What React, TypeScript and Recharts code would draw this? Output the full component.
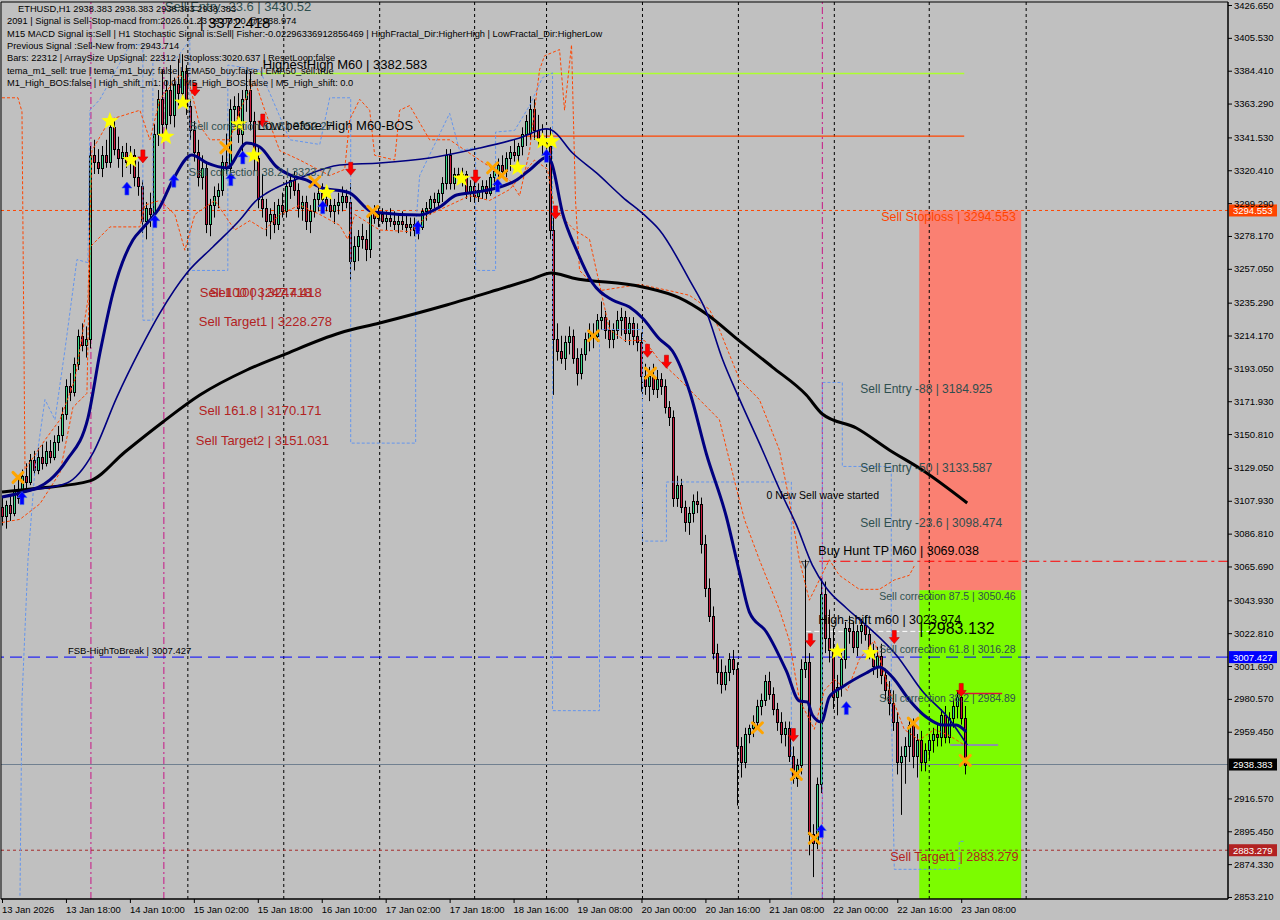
import React from 'react';
import {
  ComposedChart, Bar, Line, Scatter, XAxis, YAxis,
  ReferenceLine, ReferenceArea, ReferenceDot,
} from 'recharts';

type Ohlc = [number, number, number, number];
type Pt = [number, number];

// hourly candles [open, high, low, close], grouped by day
const jan13: Ohlc[] = [
  [3104, 3110, 3092, 3098], [3098, 3108, 3090, 3105], [3105, 3112, 3095, 3100], [3100, 3118, 3098, 3114],
  [3114, 3122, 3106, 3110], [3110, 3128, 3108, 3124], [3124, 3132, 3116, 3120], [3120, 3138, 3118, 3134],
  [3134, 3140, 3124, 3128], [3128, 3142, 3125, 3136], [3136, 3144, 3128, 3132], [3132, 3146, 3130, 3140],
  [3140, 3147, 3132, 3136], [3136, 3150, 3134, 3146], [3146, 3156, 3140, 3150], [3150, 3168, 3146, 3164],
  [3164, 3186, 3160, 3182], [3182, 3190, 3172, 3178], [3178, 3200, 3175, 3196], [3196, 3218, 3192, 3214],
  [3214, 3222, 3204, 3208], [3208, 3220, 3200, 3212],
];
const jan14: Ohlc[] = [
  [3212, 3336, 3206, 3330], [3330, 3340, 3318, 3326], [3326, 3334, 3318, 3322], [3322, 3336, 3316, 3330],
  [3330, 3340, 3322, 3326], [3326, 3354, 3322, 3348], [3348, 3352, 3330, 3334], [3334, 3342, 3322, 3328],
  [3328, 3336, 3316, 3332], [3332, 3338, 3322, 3326], [3326, 3336, 3318, 3330], [3330, 3334, 3310, 3316],
  [3316, 3326, 3304, 3310], [3310, 3314, 3280, 3288], [3288, 3300, 3276, 3296], [3296, 3306, 3284, 3292],
  [3292, 3350, 3288, 3344], [3344, 3372, 3336, 3366], [3366, 3385, 3340, 3350], [3350, 3378, 3344, 3372],
  [3372, 3388, 3350, 3356], [3356, 3380, 3348, 3376], [3376, 3392, 3362, 3370], [3370, 3395, 3365, 3384],
];
const jan15: Ohlc[] = [
  [3384, 3388, 3356, 3362], [3362, 3366, 3340, 3346], [3346, 3352, 3326, 3332], [3332, 3340, 3310, 3316],
  [3316, 3330, 3308, 3322], [3322, 3326, 3280, 3286], [3286, 3302, 3278, 3298], [3298, 3310, 3290, 3304],
  [3304, 3312, 3296, 3308], [3308, 3330, 3304, 3326], [3326, 3344, 3318, 3322], [3322, 3366, 3318, 3360],
  [3360, 3368, 3350, 3362], [3362, 3370, 3338, 3344], [3344, 3372, 3330, 3366], [3366, 3385, 3358, 3372],
  [3372, 3384, 3346, 3352], [3352, 3358, 3320, 3328], [3328, 3336, 3296, 3302], [3302, 3318, 3290, 3296],
  [3296, 3302, 3278, 3288], [3288, 3296, 3276, 3292], [3292, 3300, 3280, 3286], [3286, 3302, 3282, 3298],
];
const jan16: Ohlc[] = [
  [3298, 3306, 3290, 3294], [3294, 3314, 3290, 3310], [3310, 3318, 3302, 3314], [3314, 3320, 3304, 3308],
  [3308, 3312, 3290, 3296], [3296, 3304, 3288, 3300], [3300, 3304, 3282, 3288], [3288, 3298, 3280, 3294],
  [3294, 3306, 3290, 3302], [3302, 3310, 3294, 3306], [3306, 3312, 3298, 3302], [3302, 3310, 3294, 3298],
  [3298, 3304, 3290, 3294], [3294, 3302, 3286, 3298], [3298, 3306, 3292, 3300], [3300, 3310, 3294, 3304],
  [3304, 3308, 3296, 3300], [3300, 3312, 3250, 3262], [3262, 3278, 3256, 3272], [3272, 3282, 3262, 3278],
  [3278, 3286, 3270, 3276], [3276, 3282, 3262, 3270], [3270, 3296, 3264, 3292], [3292, 3298, 3286, 3290],
];
const jan17: Ohlc[] = [
  [3290, 3296, 3284, 3292], [3292, 3296, 3286, 3288], [3288, 3294, 3282, 3290], [3290, 3296, 3284, 3288],
  [3288, 3294, 3282, 3286], [3286, 3292, 3280, 3288], [3288, 3294, 3282, 3286], [3286, 3292, 3280, 3284],
  [3284, 3290, 3278, 3286], [3286, 3290, 3278, 3282], [3282, 3288, 3276, 3284], [3284, 3296, 3282, 3294],
  [3294, 3300, 3288, 3296], [3296, 3304, 3292, 3302], [3302, 3306, 3296, 3300], [3300, 3308, 3296, 3306],
  [3306, 3316, 3300, 3312], [3312, 3334, 3308, 3330], [3330, 3334, 3308, 3312], [3312, 3322, 3308, 3318],
  [3318, 3322, 3312, 3316], [3316, 3322, 3310, 3318], [3318, 3320, 3302, 3306], [3306, 3314, 3300, 3310],
];
const jan18: Ohlc[] = [
  [3310, 3316, 3300, 3304], [3304, 3312, 3300, 3308], [3308, 3314, 3302, 3310], [3310, 3314, 3302, 3306],
  [3306, 3318, 3304, 3316], [3316, 3324, 3310, 3320], [3320, 3328, 3312, 3324], [3324, 3330, 3316, 3320],
  [3320, 3332, 3316, 3328], [3328, 3336, 3320, 3332], [3332, 3340, 3326, 3330], [3330, 3338, 3322, 3336],
  [3336, 3348, 3330, 3344], [3344, 3356, 3336, 3352], [3344, 3368, 3340, 3360], [3360, 3366, 3340, 3346],
  [3346, 3356, 3336, 3340], [3340, 3350, 3330, 3338],
];
const jan19: Ohlc[] = [
  [3338, 3346, 3328, 3336], [3336, 3348, 3276, 3282], [3282, 3290, 3176, 3212], [3212, 3222, 3198, 3204],
  [3204, 3214, 3196, 3200], [3200, 3214, 3192, 3210], [3210, 3220, 3202, 3214], [3214, 3218, 3196, 3200],
  [3200, 3206, 3182, 3190], [3190, 3206, 3186, 3202], [3202, 3216, 3198, 3212], [3212, 3222, 3204, 3216],
  [3216, 3222, 3206, 3214], [3214, 3228, 3210, 3224], [3224, 3236, 3218, 3226], [3226, 3230, 3212, 3218],
  [3218, 3224, 3206, 3212], [3212, 3222, 3206, 3218], [3218, 3230, 3212, 3224], [3224, 3232, 3214, 3226],
  [3226, 3230, 3210, 3216], [3216, 3226, 3208, 3222], [3222, 3226, 3208, 3214], [3214, 3222, 3204, 3210],
];
const jan20: Ohlc[] = [
  [3210, 3216, 3178, 3188], [3188, 3196, 3176, 3182], [3182, 3194, 3172, 3188], [3188, 3196, 3176, 3180],
  [3180, 3192, 3174, 3186], [3186, 3190, 3176, 3182], [3182, 3186, 3164, 3168], [3168, 3172, 3156, 3162],
  [3162, 3166, 3104, 3110], [3110, 3124, 3104, 3118], [3118, 3122, 3100, 3104], [3104, 3108, 3088, 3094],
  [3094, 3104, 3086, 3100], [3100, 3112, 3094, 3108], [3108, 3114, 3100, 3106], [3106, 3110, 3074, 3080],
  [3080, 3086, 3046, 3052], [3052, 3058, 3030, 3034], [3034, 3040, 3006, 3010], [3010, 3016, 2990, 2998],
  [2998, 3006, 2984, 2990], [2990, 3002, 2986, 2998], [2998, 3010, 2992, 3006], [3006, 3012, 2996, 3000],
];
const jan21: Ohlc[] = [
  [3000, 3004, 2912, 2950], [2950, 2956, 2930, 2940], [2940, 2962, 2936, 2958], [2958, 2964, 2952, 2962],
  [2962, 2970, 2956, 2966], [2966, 2980, 2962, 2976], [2976, 2984, 2970, 2980], [2980, 2996, 2976, 2992],
  [2992, 2998, 2980, 2984], [2984, 2988, 2970, 2974], [2974, 2978, 2960, 2966], [2966, 2972, 2952, 2958],
  [2958, 2966, 2950, 2962], [2962, 2966, 2940, 2944], [2944, 2950, 2926, 2930], [2930, 2942, 2924, 2938],
  [2938, 3006, 2932, 3000], [3000, 3070, 2994, 3004], [3004, 3010, 2880, 2894], [2894, 2900, 2866, 2888],
  [2888, 2930, 2884, 2926], [2926, 3058, 2920, 3048], [3048, 3056, 3010, 3020], [3020, 3038, 3004, 3012],
];
const jan22: Ohlc[] = [
  [3012, 3026, 2974, 2982], [2982, 2996, 2970, 2988], [2988, 3010, 2982, 3006], [3006, 3030, 3000, 3026],
  [3026, 3034, 3016, 3024], [3024, 3030, 3010, 3014], [3014, 3028, 3008, 3024], [3024, 3032, 3016, 3028],
  [3028, 3034, 3018, 3022], [3022, 3026, 3006, 3010], [3010, 3016, 2996, 3002], [3002, 3014, 2994, 3008],
  [3008, 3016, 2990, 2996], [2996, 3000, 2980, 2986], [2986, 2992, 2970, 2978], [2978, 2986, 2960, 2966],
  [2966, 2972, 2932, 2940], [2940, 2950, 2906, 2944], [2944, 2956, 2926, 2950], [2950, 2968, 2940, 2964],
  [2964, 2968, 2936, 2944], [2944, 2958, 2930, 2954], [2954, 2960, 2934, 2940], [2940, 2952, 2934, 2948],
];
const jan23: Ohlc[] = [
  [2948, 2958, 2942, 2954], [2954, 2962, 2946, 2958], [2958, 2964, 2950, 2956], [2956, 2974, 2950, 2970],
  [2970, 2976, 2952, 2956], [2956, 2972, 2952, 2968], [2968, 2980, 2962, 2976], [2976, 2986, 2968, 2982],
  [2982, 2986, 2964, 2968], [2968, 2976, 2932, 2938.383],
];

const candles = [...jan13, ...jan14, ...jan15, ...jan16, ...jan17, ...jan18, ...jan19, ...jan20, ...jan21, ...jan22, ...jan23]
  .map(([o, h, l, c], i) => ({ i, o, h, l, c, range: [l, h] }));

const timeTicks = [0, 16, 32, 48, 64, 80, 96, 112, 128, 144, 160, 176, 192, 208, 224, 240];
const timeLabels = ['13 Jan 2026', '13 Jan 18:00', '14 Jan 10:00', '15 Jan 02:00', '15 Jan 18:00', '16 Jan 10:00',
  '17 Jan 02:00', '17 Jan 18:00', '18 Jan 16:00', '19 Jan 08:00', '20 Jan 00:00', '20 Jan 16:00',
  '21 Jan 08:00', '22 Jan 00:00', '22 Jan 16:00', '23 Jan 08:00'];
const priceTicks = [3426.65, 3405.53, 3384.41, 3363.29, 3341.53, 3320.41, 3299.29, 3278.17, 3257.05, 3235.29,
  3214.17, 3193.05, 3171.93, 3150.81, 3129.05, 3107.93, 3086.81, 3065.69, 3043.93, 3022.81, 3001.69,
  2980.57, 2959.45, 2916.57, 2895.45, 2874.33, 2853.21];

const daySeparators = [46.5, 70.5, 94.5, 118.25, 136.25, 160.25, 184.25, 208.25, 232, 256.25];
const magentaLines = [22.25, 40.5, 205.25];

// indicator lines [bar, price]
const slowMa: Pt[] = [[0, 3113.6], [9.5, 3116.1], [22, 3120.7], [30.75, 3139.3], [40.25, 3158.6], [49.5, 3175.9],
  [61.25, 3192], [70.25, 3201.6], [84.5, 3215.8], [94.5, 3222.2], [111.25, 3233.8], [123.75, 3243.4],
  [132, 3249.9], [137.5, 3254.4], [142.75, 3251.2], [160.25, 3245.4], [169.5, 3238.3], [176.25, 3228],
  [184.5, 3210.7], [192.75, 3193.9], [201.25, 3175.9], [205.25, 3163.7], [213.75, 3154.7], [222, 3140.6],
  [230.25, 3127.7], [241.5, 3106.5]];
const fastMa: Pt[] = [[0, 3110.4], [4.5, 3112.9], [12, 3121.3], [16.25, 3134.2], [21.5, 3161.1], [24.5, 3202.9],
  [27.75, 3241.5], [32.75, 3275.6], [35.25, 3283.3], [39.5, 3296.8], [42.75, 3314.1], [47.5, 3330.2],
  [51.25, 3325.1], [56.25, 3321.9], [61.25, 3337.9], [64.5, 3335.4], [68.75, 3322.5], [72, 3317.4],
  [76.25, 3314.1], [79.5, 3309.6], [87, 3305.8], [92.75, 3293.6], [104.5, 3291.7], [109.5, 3296.8],
  [113.75, 3304.5], [118.75, 3306.4], [123.75, 3309], [128.75, 3314.1], [132, 3320.6], [136.5, 3329],
  [137.5, 3325.1], [140.25, 3292.9], [143.75, 3269.1], [147.75, 3247.9], [152.75, 3237], [157, 3232.5],
  [160.25, 3225.4], [164.5, 3211.9], [167.75, 3204.2], [172, 3178.5], [176.25, 3138], [181.25, 3097.5],
  [184.5, 3062.2], [187, 3036.4], [191.25, 3023.6], [196.25, 2998.5], [199.5, 2979.2], [201.5, 2978.6],
  [202.75, 2970.2], [205, 2965.7], [207, 2981.8], [210.25, 2988.2], [216.25, 2997.2], [219.5, 3001.1],
  [222.75, 2994.6], [227, 2979.9], [231.25, 2968.9], [235.25, 2963.8], [238.75, 2963.8], [241.25, 2959.3]];
const midMa: Pt[] = [[0, 3110.4], [7.75, 3114.8], [16.25, 3119.4], [22.75, 3138.6], [28.75, 3174.6], [34.5, 3204.9],
  [39.5, 3228.6], [46.25, 3254.4], [52.75, 3271.1], [59.5, 3288.4], [63.75, 3301.3], [66.25, 3305.8],
  [74.5, 3315.4], [84.5, 3323.8], [94.5, 3325.1], [107, 3328.3], [119.5, 3334.7], [129.5, 3341.2],
  [136.25, 3347], [137.5, 3346.3], [142.75, 3331.5], [148.75, 3318.7], [155.25, 3303.2], [161.25, 3290.4],
  [164.5, 3282], [172, 3249.9], [176.25, 3229.3], [180.25, 3199.1], [184.5, 3173.4], [190.25, 3140.6],
  [194.5, 3115.5], [198.75, 3092.4], [202.75, 3066.6], [206.25, 3051.9], [211.25, 3039], [217, 3026.1],
  [223.75, 3008.8], [230.25, 2985.6], [237, 2967.6], [241.5, 2950.9]];
const bandUpper: Pt[] = [[0, 3367], [4, 3367], [5, 3358], [5.75, 3128], [10.75, 3147], [14.5, 3160], [18.25, 3186],
  [21.5, 3237], [22.5, 3333], [27, 3353], [34.5, 3359], [37, 3340], [39.5, 3366], [44.5, 3382], [47, 3375],
  [49.5, 3349], [52, 3340], [57, 3340], [59.5, 3359], [63.25, 3378], [65.75, 3359], [69.5, 3333], [74.5, 3327],
  [82, 3317], [85.75, 3321], [87, 3353], [89.5, 3366], [92, 3359], [93.25, 3330], [98.25, 3327], [99.5, 3359],
  [102, 3362], [107, 3340], [112, 3340], [119.5, 3327], [127, 3314], [129.5, 3304], [132, 3333], [134.5, 3385],
  [135.75, 3394], [139.5, 3398], [140.75, 3359], [142.5, 3401], [143.5, 3301], [144.5, 3256], [149.5, 3243],
  [159.5, 3247], [167, 3243], [172, 3240], [177, 3231], [179.5, 3218], [184.5, 3186], [189.5, 3173],
  [194.5, 3140.6], [197, 3108], [199.5, 3070], [202, 3044], [204.5, 3057], [207, 3070], [209.5, 3060],
  [214.5, 3051], [219.5, 3051], [223.25, 3057], [227, 3060], [228.25, 3066]];
const bandLower: Pt[] = [[0, 3094], [4.5, 3096], [9.5, 3106], [14.5, 3126], [17.75, 3168], [21.25, 3177], [22, 3271],
  [27, 3284], [34.5, 3284], [35.75, 3298], [39.5, 3301], [43.25, 3292], [45.75, 3269], [48.25, 3292],
  [53.25, 3301], [58.25, 3282], [62, 3288], [65.75, 3282], [69.5, 3292], [74.5, 3298], [79.5, 3292],
  [84.5, 3285], [86.5, 3276], [88.25, 3292], [94.5, 3282], [102, 3281], [107, 3292], [112, 3298], [117, 3304],
  [122, 3301], [127, 3308], [133.25, 3327], [136.5, 3321], [138.25, 3295], [143.25, 3282], [147, 3276],
  [152, 3218], [155.75, 3211], [160.75, 3211], [164.5, 3198], [169.5, 3186], [174.5, 3173], [179.5, 3160],
  [183.25, 3121], [185.75, 3096], [189.5, 3070], [194.5, 3038], [197, 3018], [199.5, 2980], [203.25, 2961],
  [205.75, 2986], [208.25, 2993], [211.5, 2986], [214.5, 3006], [218.25, 3018], [222, 2986], [225.75, 2961],
  [229.5, 2954], [233.25, 2961], [237, 2957], [240.75, 2951]];
const stepA: Pt[] = [[4.5, 2854], [5, 2980], [6.5, 3070], [8.25, 3128], [10.75, 3173], [13.25, 3160], [15.75, 3205],
  [18.75, 3263], [21.5, 3261], [22, 3359], [24.5, 3366], [32, 3401], [35.25, 3401], [35.25, 3224], [37.75, 3224],
  [37.75, 3391], [43.25, 3391], [47, 3404], [47, 3256], [56.5, 3256], [56.5, 3388], [64.5, 3385], [72, 3340],
  [79.5, 3337], [82, 3367], [87.25, 3367], [87.25, 3145], [103.5, 3145], [103.5, 3284], [104.5, 3317],
  [112, 3357], [114.5, 3333], [118.5, 3335], [118.5, 3256], [123.5, 3256], [123.5, 3345], [128.25, 3346],
  [132, 3362], [135.25, 3380], [137.75, 3383], [137.75, 2973], [149.5, 2973], [149.5, 3218], [160.25, 3218],
  [160.25, 3082], [166.25, 3082], [166.25, 3120], [197.5, 3120], [197.5, 2853]];
const stepB: Pt[] = [[205.25, 2853], [205.25, 3184], [210.25, 3184], [210.25, 3130], [222.5, 3130], [222.5, 2983],
  [223.25, 2871], [239.5, 2871], [239.5, 2889], [241, 2889]];

// signal markers [bar, price]
const stars: Pt[] = [[27, 3352], [32.25, 3327], [41, 3342], [45.25, 3364], [59.25, 3350], [63, 3330], [81.25, 3306],
  [115, 3315], [129, 3322], [135.25, 3339], [137.5, 3339], [209, 3011], [217.25, 3010]];
const sellArrows: Pt[] = [[35.25, 3329], [48.25, 3372], [65.25, 3352], [87.25, 3321], [118.5, 3316], [138.5, 3293],
  [161.5, 3204], [166.25, 3197], [198, 2957], [202.25, 3018], [223.25, 3020], [240, 2986]];
const buyArrows: Pt[] = [[5, 3110], [31.25, 3309], [38.25, 3288], [43, 3314], [57.25, 3315], [60.25, 3329],
  [80.25, 3297], [104, 3284], [124, 3311], [136.25, 3330], [211.25, 2975], [205, 2896]];
const crosses: Pt[] = [[4, 3123], [56, 3335], [78.25, 3313], [92.75, 3294], [122.75, 3322], [125, 3317],
  [148, 3214], [162.25, 3190], [189, 2962], [198.75, 2932], [203.25, 2891], [228, 2965], [241, 2941]];

const infoLines = [
  'ETHUSD,H1  2938.383 2938.383 2938.383 2938.383',
  '2091 | Signal is Sell-Stop-macd from:2026.01.23 09:00:00 @2938.974',
  'M15 MACD Signal is:Sell | H1 Stochastic Signal is:Sell| Fisher:-0.02296336912856469 | HighFractal_Dir:HigherHigh | LowFractal_Dir:HigherLow',
  'Previous Signal :Sell-New from: 2943.714',
  'Bars: 22312 | ArraySize UpSignal: 22312 | Stoploss:3020.637 | ResetLoop:false',
  'tema_m1_sell: true | tema_m1_buy: false | EMA50_buy:false | EMA50_sell:true',
  'M1_High_BOS:false | High_shift_m1: 0.0 | M5_High_BOS:false | M5_High_shift: 0.0',
];

const notes = [
  { t: 'Sell Entry -23.6 | 3430.52', i: 40.75, p: 3425.4, c: '#2f4f4f', s: 13 },
  { t: '| 3372.418', i: 49.5, p: 3415.7, c: '#000', s: 15 },
  { t: 'HighestHigh   M60 | 3382.583', i: 65.25, p: 3388.1, c: '#000', s: 13 },
  { t: 'Sell correction 61.8 | 3352.27', i: 47, p: 3348.9, c: '#2f4f4f', s: 11 },
  { t: 'Low before High    M60-BOS', i: 64, p: 3348.9, c: '#000', s: 13 },
  { t: 'Sell correction 38.2 | 3323.77', i: 46.75, p: 3319.3, c: '#2f4f4f', s: 11 },
  { t: 'Sell 100 | 3247.418', i: 49.5, p: 3242.1, c: '#b22222', s: 13 },
  { t: 'Sell 100 | 3247.418', i: 52, p: 3242.1, c: '#b22222', s: 13 },
  { t: 'Sell Target1 | 3228.278', i: 49.25, p: 3223.5, c: '#b22222', s: 13 },
  { t: 'Sell 161.8 | 3170.171', i: 49.25, p: 3165.7, c: '#b22222', s: 13 },
  { t: 'Sell Target2 | 3151.031', i: 48.5, p: 3146.4, c: '#b22222', s: 13 },
  { t: 'FSB-HighToBreak | 3007.427', i: 16.5, p: 3011.4, c: '#000', s: 9.5 },
  { t: 'Sell Stoploss | 3294.553', i: 220, p: 3290.4, c: '#ff4500', s: 12.5 },
  { t: 'Sell Entry -88 | 3184.925', i: 214.75, p: 3179.8, c: '#2f4f4f', s: 12 },
  { t: 'Sell Entry -50 | 3133.587', i: 214.75, p: 3129.0, c: '#2f4f4f', s: 12 },
  { t: 'Sell Entry -23.6 | 3098.474', i: 214.75, p: 3093.6, c: '#2f4f4f', s: 12 },
  { t: '0 New Sell wave started', i: 191.25, p: 3111.6, c: '#000', s: 10.5 },
  { t: 'Buy Hunt TP M60 | 3069.038', i: 204.25, p: 3075.6, c: '#000', s: 12.5 },
  { t: '▽', i: 200, p: 3067, c: '#000', s: 11 },
  { t: 'Sell correction 87.5 | 3050.46', i: 219.5, p: 3046.7, c: '#2f4f4f', s: 10.5 },
  { t: 'High-shift m60 | 3023.974', i: 204.25, p: 3031.3, c: '#000', s: 12.5 },
  { t: '| 2983.132', i: 229.5, p: 3025.5, c: '#000', s: 16 },
  { t: 'Sell correction 61.8 | 3016.28', i: 219.5, p: 3012.6, c: '#2f4f4f', s: 10.5 },
  { t: 'Sell correction 38.2 | 2984.89', i: 219.5, p: 2981.1, c: '#2f4f4f', s: 10.5 },
  { t: 'Sell Target1 | 2883.279', i: 222.25, p: 2878.9, c: '#b22222', s: 12.5 },
];

const X_MIN = -0.25;
const X_MAX = 306.75;
const Y_MIN = 2851.92;
const Y_MAX = 3428.58;
const FONT = '"Liberation Sans", Arial, sans-serif';
const BULL = '#38d888';
const BEAR = '#c8183c';

const pts = (arr: Pt[]) => arr.map(([i, p]) => ({ i, p }));

const Candle = (props: any) => {
  const { x, y, width, height, payload } = props;
  if (!payload) return null;
  const top = Math.min(y, y + height);
  const bottom = Math.max(y, y + height);
  const span = payload.h - payload.l || 1;
  const py = (v: number) => top + ((payload.h - v) / span) * (bottom - top);
  const cx = Math.round(x + width / 2) + 0.5;
  const bTop = Math.round(py(Math.max(payload.o, payload.c))) + 0.5;
  const bBot = Math.round(py(Math.min(payload.o, payload.c))) + 0.5;
  return (
    <g>
      <line x1={cx} x2={cx} y1={top} y2={bottom} stroke="#000" strokeWidth={1} />
      <rect x={cx - 1} y={bTop} width={2} height={Math.max(bBot - bTop, 1)}
        fill={payload.c >= payload.o ? BULL : BEAR} stroke="#000" strokeWidth={1} />
    </g>
  );
};

const StarMark = ({ cx, cy }: any) => {
  const d = Array.from({ length: 10 }, (_, k) => {
    const r = k % 2 === 0 ? 9 : 3.8;
    const a = -Math.PI / 2 + (k * Math.PI) / 5;
    return `${k === 0 ? 'M' : 'L'}${cx + r * Math.cos(a)},${cy + r * Math.sin(a)}`;
  }).join(' ') + ' Z';
  return <path d={d} fill="#ffff00" />;
};

const DownArrow = ({ cx, cy }: any) => (
  <path d={`M${cx - 2},${cy - 7} L${cx + 2},${cy - 7} L${cx + 2},${cy} L${cx + 5},${cy} L${cx},${cy + 6} L${cx - 5},${cy} L${cx - 2},${cy} Z`}
    fill="#ff0000" stroke="#c00000" strokeWidth={0.6} />
);

const UpArrow = ({ cx, cy }: any) => (
  <path d={`M${cx - 2},${cy + 7} L${cx + 2},${cy + 7} L${cx + 2},${cy} L${cx + 5},${cy} L${cx},${cy - 6} L${cx - 5},${cy} L${cx - 2},${cy} Z`}
    fill="#0000ff" stroke="#4169e1" strokeWidth={0.6} />
);

const Cross = ({ cx, cy }: any) => (
  <g stroke="#ffa500" strokeWidth={3} strokeLinecap="round">
    <line x1={cx - 5} y1={cy - 5} x2={cx + 5} y2={cy + 5} />
    <line x1={cx - 5} y1={cy + 5} x2={cx + 5} y2={cy - 5} />
  </g>
);

const TimeTick = ({ x, y, payload }: any) => {
  const k = timeTicks.indexOf(payload.value);
  return (
    <g>
      <line x1={x + 0.5} x2={x + 0.5} y1={y} y2={y + 4} stroke="#000" />
      <text x={x} y={y + 14} fontSize={9.5} fontFamily={FONT} fill="#000">{timeLabels[k]}</text>
    </g>
  );
};

const PriceTick = ({ x, y, payload }: any) => (
  <g>
    <line x1={x} x2={x + 4} y1={y + 0.5} y2={y + 0.5} stroke="#000" />
    <text x={x + 6} y={y + 3.5} fontSize={9.5} fontFamily={FONT} fill="#000">{payload.value.toFixed(3)}</text>
  </g>
);

const priceTag = (value: number, bg: string) => (props: any) => {
  const vb = props.viewBox || {};
  const x0 = (vb.x || 0) + (vb.width || 0) + 1;
  const y0 = vb.y || 0;
  return (
    <g>
      <rect x={x0} y={y0 - 6} width={48} height={12} fill={bg} />
      <text x={x0 + 4} y={y0 + 3.5} fontSize={9.5} fontFamily={FONT} fill="#fff">{value.toFixed(3)}</text>
    </g>
  );
};

const fullLines = [
  { p: 3294.553, c: '#ff4500', dash: '3 3', tag: '#ff4500' },
  { p: 3007.427, c: '#0000ff', dash: '12 6', tag: '#0000ff' },
  { p: 2938.383, c: '#708090', dash: undefined, tag: '#000000' },
  { p: 2883.279, c: '#a52a2a', dash: '3 3', tag: '#b22222' },
];

const segLines = [
  { p: 3382.583, a: 63.25, b: 240.75, c: '#adff2f', dash: undefined, w: 1.5 },
  { p: 3342.4, a: 62.75, b: 240.75, c: '#ff4500', dash: undefined, w: 1.2 },
  { p: 3069.038, a: 204.5, b: X_MAX, c: '#ff0000', dash: '10 4 3 4', w: 1 },
  { p: 3023.974, a: 201.25, b: 232, c: '#ffffff', dash: '5 3', w: 1 },
  { p: 2984.0, a: 239, b: 250.25, c: '#dc143c', dash: undefined, w: 1.5 },
  { p: 2950.9, a: 237.25, b: 249.25, c: '#9370db', dash: undefined, w: 1.5 },
];

export default function App() {
  return (
    <div style={{ position: 'fixed', left: 0, top: 0, width: 1280, height: 920, background: '#c0c0c0', overflow: 'hidden' }}>
      <ComposedChart width={1280} height={920} data={candles} margin={{ top: 2, right: 0, bottom: 0, left: 1 }}>
        <XAxis dataKey="i" type="number" domain={[X_MIN, X_MAX]} allowDataOverflow ticks={timeTicks} interval={0}
          height={21} tickSize={0} tickMargin={0} axisLine={{ stroke: '#000' }} tick={<TimeTick />} />
        <YAxis orientation="right" type="number" domain={[Y_MIN, Y_MAX]} allowDataOverflow ticks={priceTicks}
          interval={0} width={52} tickSize={0} tickMargin={0} axisLine={{ stroke: '#000' }} tick={<PriceTick />} />

        <ReferenceArea x1={229.5} x2={255} y1={3050.46} y2={3294.553} fill="#fa8072" fillOpacity={1} ifOverflow="hidden" zIndex={-50} />
        <ReferenceArea x1={229.5} x2={255} y1={Y_MIN} y2={3050.46} fill="#7cfc00" fillOpacity={1} ifOverflow="hidden" zIndex={-50} />

        {daySeparators.map((v) => (
          <ReferenceLine key={`d${v}`} x={v} stroke="#000" strokeDasharray="3 3" zIndex={-40} />
        ))}
        {magentaLines.map((v) => (
          <ReferenceLine key={`m${v}`} x={v} stroke="#c71585" strokeDasharray="7 3 2 3" zIndex={-40} />
        ))}
        {segLines.map((s) => (
          <ReferenceLine key={`s${s.p}`} segment={[{ x: s.a, y: s.p }, { x: s.b, y: s.p }]} stroke={s.c}
            strokeWidth={s.w} strokeDasharray={s.dash} ifOverflow="hidden" zIndex={-30} />
        ))}
        {fullLines.map((f) => (
          <ReferenceLine key={`f${f.p}`} y={f.p} stroke={f.c} strokeDasharray={f.dash} zIndex={-30} />
        ))}

        <Line data={pts(stepA)} dataKey="p" type="linear" stroke="#6495ed" strokeWidth={1} strokeDasharray="3 2" dot={false} activeDot={false} isAnimationActive={false} />
        <Line data={pts(stepB)} dataKey="p" type="linear" stroke="#6495ed" strokeWidth={1} strokeDasharray="3 2" dot={false} activeDot={false} isAnimationActive={false} />
        <Line data={pts(bandUpper)} dataKey="p" type="linear" stroke="#ff4500" strokeWidth={1} strokeDasharray="3 2" dot={false} activeDot={false} isAnimationActive={false} />
        <Line data={pts(bandLower)} dataKey="p" type="linear" stroke="#ff4500" strokeWidth={1} strokeDasharray="3 2" dot={false} activeDot={false} isAnimationActive={false} />

        <Bar dataKey="range" barSize={3} shape={<Candle />} isAnimationActive={false} />

        <Line data={pts(slowMa)} dataKey="p" type="monotone" stroke="#000" strokeWidth={3} dot={false} activeDot={false} isAnimationActive={false} />
        <Line data={pts(midMa)} dataKey="p" type="monotone" stroke="#000080" strokeWidth={1.6} dot={false} activeDot={false} isAnimationActive={false} />
        <Line data={pts(fastMa)} dataKey="p" type="monotone" stroke="#000080" strokeWidth={3} dot={false} activeDot={false} isAnimationActive={false} />

        <Scatter data={pts(stars)} dataKey="p" shape={<StarMark />} isAnimationActive={false} />
        <Scatter data={pts(crosses)} dataKey="p" shape={<Cross />} isAnimationActive={false} />
        <Scatter data={pts(sellArrows)} dataKey="p" shape={<DownArrow />} isAnimationActive={false} />
        <Scatter data={pts(buyArrows)} dataKey="p" shape={<UpArrow />} isAnimationActive={false} />

        {notes.map((n, k) => (
          <ReferenceDot key={`n${k}`} x={n.i} y={n.p} r={0} ifOverflow="visible" zIndex={700}
            shape={(sp: any) => (
              <text x={sp.cx} y={sp.cy} dominantBaseline="central" fontSize={n.s} fontFamily={FONT} fill={n.c}>{n.t}</text>
            )} />
        ))}

        {fullLines.map((f) => (
          <ReferenceLine key={`t${f.p}`} y={f.p} stroke="none" zIndex={800} label={priceTag(f.p, f.tag)} />
        ))}
        <ReferenceArea x1={X_MIN} x2={X_MAX} y1={Y_MIN} y2={Y_MAX} fill="none" stroke="#000" ifOverflow="visible" zIndex={900} />
      </ComposedChart>
      <div style={{ position: 'absolute', left: 0, top: 0, fontFamily: FONT, fontSize: 9.3, color: '#000', pointerEvents: 'none' }}>
        {infoLines.map((line, k) => (
          <div key={k} style={{ position: 'absolute', left: k === 0 ? 18 : 7, top: 3 + k * 12.3, whiteSpace: 'nowrap', lineHeight: '12px' }}>
            {line}
          </div>
        ))}
      </div>
    </div>
  );
}
